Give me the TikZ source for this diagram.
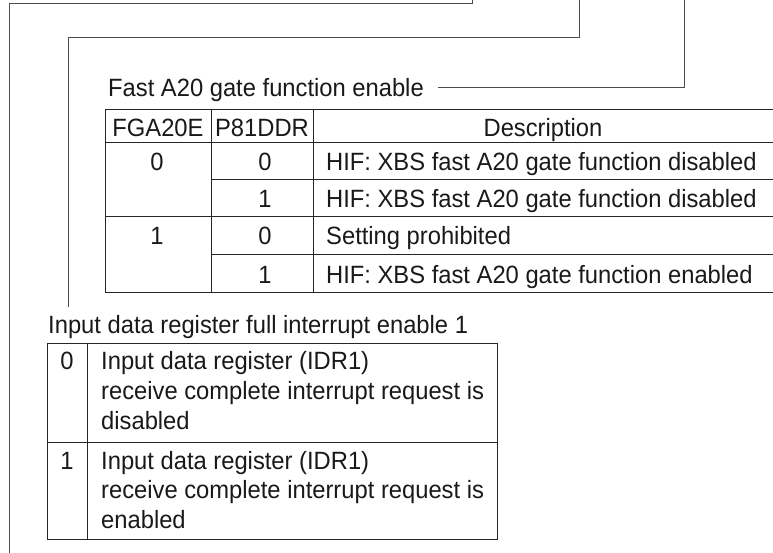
\documentclass[tikz,border=0pt]{standalone}
\usepackage{fontspec}
\setmainfont[FakeStretch=0.95]{Liberation Sans}
\begin{document}
\begin{tikzpicture}[x=1pt,y=-1pt,
  txt/.style={inner sep=0pt, font=\fontsize{25}{30}\selectfont, text=black!90},
  lbl/.style={txt, anchor=base west},
  ctr/.style={txt, anchor=base},
  gridline/.style={line width=1pt, black!85},
  lead/.style={line width=1pt, black!70}]
\useasboundingbox (0,0) rectangle (773,553);

% labels
\node[lbl] (fastlbl) at (108,97) {Fast A20 gate function enable};
\node[lbl] (idrlbl) at (48,333) {Input data register full interrupt enable 1};

% leader lines
\coordinate (c1top) at (472,0);
\coordinate (c1corner) at (9,4);
\coordinate (c1end) at (9,553);
\coordinate (c2top) at (579,0);
\coordinate (c2corner) at (68,38);
\coordinate (c2end) at (68,307);
\coordinate (c3top) at (684,0);
\coordinate (c3end) at (438,88);
\draw[lead] (c1top) |- (c1corner) -- (c1end);
\draw[lead] (c2top) |- (c2corner) -- (c2end);
\draw[lead] (c3top) |- (c3end);

% fast A20 table grid
\draw[gridline] (105,109.5) -- (773,109.5);
\draw[gridline] (105,143) -- (773,143);
\draw[gridline] (211,180) -- (773,180);
\draw[gridline] (105,217) -- (773,217);
\draw[gridline] (211,254.5) -- (773,254.5);
\draw[gridline] (105,292) -- (773,292);
\draw[gridline] (105,109.5) -- (105,292);
\draw[gridline] (211,109.5) -- (211,292);
\draw[gridline] (313,109.5) -- (313,292);

% header
\node[ctr] (h1) at (158,137) {FGA20E};
\node[ctr] (h2) at (262,137) {P81DDR};
\node[ctr] (h3) at (543,137) {Description};
% rows
\node[ctr] (a0) at (157,171) {0};
\node[ctr] (a1) at (157,245) {1};
\node[ctr] (b1) at (265,171) {0};
\node[ctr] (b2) at (265,208) {1};
\node[ctr] (b3) at (265,245) {0};
\node[ctr] (b4) at (265,283) {1};
\node[lbl] (d1) at (326,171) {HIF: XBS fast A20 gate function disabled};
\node[lbl] (d2) at (326,208) {HIF: XBS fast A20 gate function disabled};
\node[lbl] (d3) at (326,245) {Setting prohibited};
\node[lbl] (d4) at (326,283) {HIF: XBS fast A20 gate function enabled};

% IDR table
\draw[gridline] (47,343) rectangle (497,539);
\draw[gridline] (87,343) -- (87,539);
\draw[gridline] (47,442) -- (497,442);
\node[ctr] (v0) at (67,369) {0};
\node[lbl] (t0a) at (101,369) {Input data register (IDR1)};
\node[lbl] (t0b) at (101,399) {receive complete interrupt request is};
\node[lbl] (t0c) at (101,429) {disabled};
\node[ctr] (v1) at (67,469) {1};
\node[lbl] (t1a) at (101,469) {Input data register (IDR1)};
\node[lbl] (t1b) at (101,498) {receive complete interrupt request is};
\node[lbl] (t1c) at (101,528) {enabled};
\end{tikzpicture}
\end{document}
